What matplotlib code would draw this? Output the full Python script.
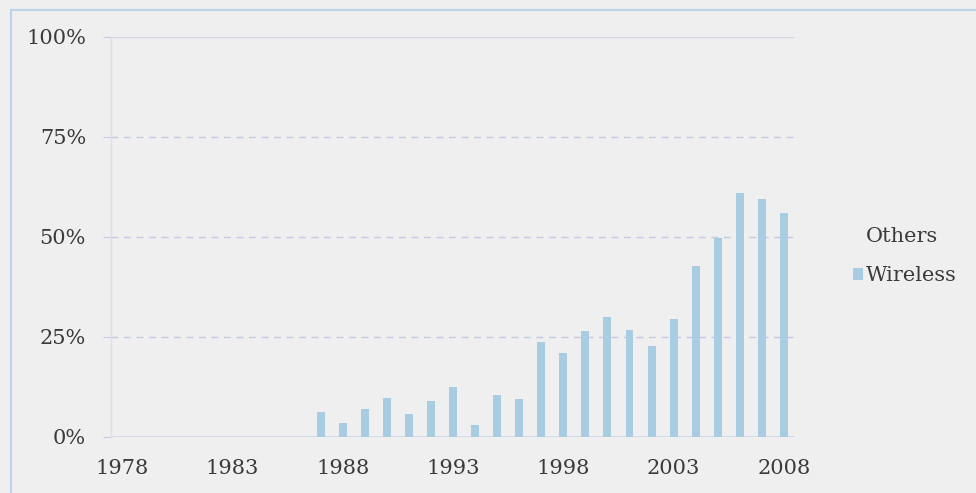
import matplotlib
matplotlib.use('Agg')
import matplotlib.pyplot as plt
from matplotlib.patches import Rectangle, Patch
from matplotlib.ticker import FuncFormatter

# Share of wireless, by year (percent); "Others" has no visible bars
years = list(range(1978, 2009))
wireless_years = list(range(1987, 2009))
wireless_pct = [6.3, 3.4, 7.0, 9.7, 5.7, 8.9, 12.5, 2.9, 10.6, 9.5,
                23.8, 21.1, 26.5, 30.0, 26.8, 22.7, 29.5, 42.7, 49.7,
                61.0, 59.5, 55.9]
y_ticks = [0, 25, 50, 75, 100]
x_tick_years = [1978, 1983, 1988, 1993, 1998, 2003, 2008]

bg = '#efefef'
bar_color = '#a8cde2'
grid_color = '#c6cbe4'
text_color = '#3a3a3a'
font = 'DejaVu Serif'

fig = plt.figure(figsize=(9.76, 4.93), dpi=100, facecolor=bg)

# outer chart frame, open to the right and bottom
fig.patches.append(Rectangle((11 / 976, -0.2), 1.2, 1 - 10 / 493 + 0.2,
                             transform=fig.transFigure, fill=False,
                             edgecolor='#bcd3e8', linewidth=1.6))

ax = fig.add_axes([111 / 976, 1 - 437 / 493, (795 - 111) / 976, 400 / 493])
ax.set_facecolor('none')

ax.bar(wireless_years, wireless_pct, width=0.36, color=bar_color, zorder=3)

ax.set_xlim(years[0] - 0.5, years[-1] + 0.5)
ax.set_ylim(0, 100)

# horizontal gridlines: solid at the top, dashed in between
for v in y_ticks[1:-1]:
    ax.axhline(v, color=grid_color, linewidth=1.0, linestyle=(0, (5, 4)), zorder=1)
ax.axhline(100, color='#d4d7e2', linewidth=1.0, zorder=1)
ax.axhline(0, color='#d0d5e6', linewidth=1.2, zorder=2)

for side in ['top', 'right', 'bottom']:
    ax.spines[side].set_visible(False)
ax.spines['left'].set_color('#dcdfe8')
ax.spines['left'].set_linewidth(1.0)

ax.set_yticks(y_ticks)
ax.yaxis.set_major_formatter(FuncFormatter(lambda v, p: f'{int(v)}%'))
ax.tick_params(axis='y', length=6, color=grid_color, pad=12,
               labelsize=15, labelcolor=text_color)
ax.set_xticks(x_tick_years)
ax.tick_params(axis='x', length=0, pad=16, labelsize=15, labelcolor=text_color)
for lbl in ax.get_xticklabels() + ax.get_yticklabels():
    lbl.set_fontfamily(font)

handles = [Patch(facecolor='none', edgecolor='none'),
           Patch(facecolor=bar_color, edgecolor='none')]
leg = fig.legend(handles, ['Others', 'Wireless'], loc='center left',
                 bbox_to_anchor=(834 / 976, 1 - 256 / 493), frameon=False,
                 prop={'family': font, 'size': 15}, handlelength=0.5,
                 handleheight=0.5, handletextpad=0.15, labelspacing=1.0)
for t in leg.get_texts():
    t.set_color(text_color)

fig.savefig('out.png', dpi=100, facecolor=bg)
